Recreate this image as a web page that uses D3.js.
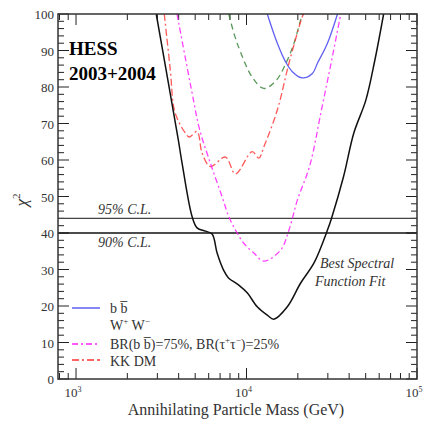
<!DOCTYPE html>
<html>
<head>
<meta charset="utf-8">
<script src="https://cdn.jsdelivr.net/npm/d3@7"></script>
<style>
  body { margin: 0; background: #fff; }
  text { font-family: 'Liberation Serif', 'DejaVu Serif', serif; }
</style>
</head>
<body>
<div id="chart"></div>
<script>
// data: mass in GeV, chi2 value
var bestFitMass = [2955, 3981, 4186, 4794, 5129, 5740, 6284, 6724, 7322, 7838, 8973, 10095, 11558, 13237, 14475, 17354, 20780, 24880, 29840, 31500, 37060, 42600, 50120, 56620, 63710]
var bestFitChi2 = [100, 65.5, 59.2, 44.5, 41.4, 40.5, 39.7, 34.5, 29.9, 27.7, 25.8, 23.6, 19.8, 17.5, 16.4, 19.8, 26.3, 31.8, 40.8, 44.0, 55.4, 67.4, 76.4, 87.4, 100]

var bbMass = [13240, 15160, 16960, 18570, 21270, 24350, 26060, 29840, 34160]
var bbChi2 = [100, 92.0, 86.9, 84.2, 82.5, 83.7, 86.5, 92.0, 100]

var wwMass = [7870, 8500, 9220, 10800, 12640, 14810, 16960, 18980, 20780, 21270]
var wwChi2 = [100, 94.2, 89.6, 82.7, 79.6, 81.6, 86.3, 92.0, 98.4, 100]

var brMass = [3912, 4794, 5291, 6141, 7196, 7870, 8616, 9640, 11040, 12640, 15850, 17740, 19870, 23480, 27510, 31410, 35720]
var brChi2 = [100, 78.4, 68.6, 59.1, 49.9, 44.5, 40.8, 37.2, 34.5, 32.3, 35.3, 40.8, 49.0, 58.4, 73.7, 86.8, 100]

var kkMass = [3294, 3572, 3772, 4090, 4377, 4620, 5129, 5490, 6141, 7524, 8616, 10800, 11810, 12640, 15160, 17740, 21270, 21650]
var kkChi2 = [100, 84.7, 73.7, 69.6, 67.4, 66.3, 67.8, 61.9, 58.2, 60.8, 56.2, 62.3, 60.5, 63.6, 73.7, 86.5, 99.3, 100]

var clLevels = [44, 40]
var clLabels = ['95% C.L.', '90% C.L.']
var yTicks = [0, 10, 20, 30, 40, 50, 60, 70, 80, 90, 100]
var xMajor = [1000, 10000, 100000]
var xExponents = ['3', '4', '5']

var width = 425
var height = 422
var margin = { top: 14, left: 58, right: 8, bottom: 43 }

var svg = d3.select('#chart')
  .append('svg')
  .attr('width', width)
  .attr('height', height)

var xPositionScale = d3.scaleLog()
  .domain([784, 100000])
  .range([margin.left, width - margin.right])

var yPositionScale = d3.scaleLinear()
  .domain([0, 100])
  .range([height - margin.bottom, margin.top])

var x0 = margin.left
var x1 = width - margin.right
var y0 = height - margin.bottom
var y1 = margin.top

svg.append('clipPath')
  .attr('id', 'plot-clip')
  .append('rect')
  .attr('x', x0)
  .attr('y', y1)
  .attr('width', x1 - x0)
  .attr('height', y0 - y1)

// ticks - y axis, both sides, inward
var yMinor = d3.range(0, 101, 2)
yMinor.forEach(function(v) {
  var major = v % 10 === 0
  var len = major ? 11 : 6
  svg.append('line')
    .attr('x1', x0).attr('x2', x0 + len)
    .attr('y1', yPositionScale(v)).attr('y2', yPositionScale(v))
    .attr('stroke', '#222').attr('stroke-width', 1)
  svg.append('line')
    .attr('x1', x1).attr('x2', x1 - len)
    .attr('y1', yPositionScale(v)).attr('y2', yPositionScale(v))
    .attr('stroke', '#222').attr('stroke-width', 1)
})

// ticks - x axis, top and bottom
var xTicks = []
;[100, 1000, 10000].forEach(function(dec) {
  for (var k = 1; k < 10; k++) {
    var m = dec * k
    if (m >= 784 && m <= 100000) xTicks.push(m)
  }
})
xTicks.push(100000)
xTicks.forEach(function(m) {
  var major = xMajor.indexOf(m) !== -1
  var len = major ? 11 : 6
  svg.append('line')
    .attr('x1', xPositionScale(m)).attr('x2', xPositionScale(m))
    .attr('y1', y0).attr('y2', y0 - len)
    .attr('stroke', '#222').attr('stroke-width', 1)
  svg.append('line')
    .attr('x1', xPositionScale(m)).attr('x2', xPositionScale(m))
    .attr('y1', y1).attr('y2', y1 + len)
    .attr('stroke', '#222').attr('stroke-width', 1)
})

// y tick labels
svg.selectAll('.ylab')
  .data(yTicks)
  .enter()
  .append('text')
  .attr('class', 'ylab')
  .attr('x', x0 - 4)
  .attr('y', function(d) { return yPositionScale(d) + 5 })
  .attr('text-anchor', 'end')
  .attr('font-size', 13)
  .attr('fill', '#333')
  .text(function(d) { return d })

// x tick labels 10^n
xMajor.forEach(function(m, i) {
  var t = svg.append('text')
    .attr('x', xPositionScale(m) - 3)
    .attr('y', y0 + 18)
    .attr('text-anchor', 'middle')
    .attr('font-size', 13)
    .attr('fill', '#333')
  t.append('tspan').text('10')
  t.append('tspan').attr('dy', -5).attr('font-size', 8).text(xExponents[i])
})

// confidence level lines
clLevels.forEach(function(v, i) {
  svg.append('line')
    .attr('x1', x0).attr('x2', x1)
    .attr('y1', yPositionScale(v)).attr('y2', yPositionScale(v))
    .attr('stroke', i === 0 ? '#444' : '#111')
    .attr('stroke-width', 1.3)
  svg.append('text')
    .attr('x', 98)
    .attr('y', i === 0 ? yPositionScale(v) - 4 : yPositionScale(v) + 14)
    .attr('font-size', 14)
    .attr('font-style', 'italic')
    .attr('fill', '#333')
    .text(clLabels[i])
})

var line = d3.line()
  .x(function(d) { return xPositionScale(d[0]) })
  .y(function(d) { return yPositionScale(d[1]) })
  .curve(d3.curveCatmullRom)

var plot = svg.append('g').attr('clip-path', 'url(#plot-clip)')

function drawSeries(mass, chi2, color, width, dash, opacity) {
  plot.append('path')
    .datum(d3.zip(mass, chi2))
    .attr('d', line)
    .attr('fill', 'none')
    .attr('stroke', color)
    .attr('stroke-width', width)
    .attr('stroke-dasharray', dash)
    .attr('stroke-opacity', opacity)
}

drawSeries(wwMass, wwChi2, '#2f7f2f', 1.3, '6,4', 0.8)
drawSeries(bbMass, bbChi2, '#3838ee', 1.3, null, 0.8)
drawSeries(kkMass, kkChi2, '#ff3030', 1.3, '7,3,2,3,7,3', 0.8)
drawSeries(brMass, brChi2, '#ff22ff', 1.3, '6,3,2,3', 0.85)
drawSeries(bestFitMass, bestFitChi2, '#111', 1.5, null, 1)

// frame
svg.append('rect')
  .attr('x', x0).attr('y', y1)
  .attr('width', x1 - x0).attr('height', y0 - y1)
  .attr('fill', 'none')
  .attr('stroke', '#333')
  .attr('stroke-width', 1.5)

// title text
svg.append('text')
  .attr('x', 69).attr('y', 55)
  .attr('font-size', 19).attr('font-weight', 'bold')
  .text('HESS')
svg.append('text')
  .attr('x', 69).attr('y', 80)
  .attr('font-size', 19).attr('font-weight', 'bold')
  .text('2003+2004')

svg.append('text')
  .attr('x', 320).attr('y', 268)
  .attr('font-size', 14).attr('font-style', 'italic').attr('fill', '#333')
  .text('Best Spectral')
svg.append('text')
  .attr('x', 315).attr('y', 286)
  .attr('font-size', 14).attr('font-style', 'italic').attr('fill', '#333')
  .text('Function Fit')

// legend
var legend = svg.append('g')
legend.append('line')
  .attr('x1', 72).attr('x2', 100).attr('y1', 308).attr('y2', 308)
  .attr('stroke', '#3838ee').attr('stroke-width', 1.5).attr('stroke-opacity', 0.8)
var bb = legend.append('text').attr('x', 110).attr('y', 313).attr('font-size', 14).attr('fill', '#333')
bb.append('tspan').text('b b\u0305')

var ww = legend.append('text').attr('x', 110).attr('y', 330).attr('font-size', 14).attr('fill', '#333')
ww.append('tspan').text('W')
ww.append('tspan').attr('dy', -6).attr('font-size', 9).text('+')
ww.append('tspan').attr('dy', 6).text(' W')
ww.append('tspan').attr('dy', -6).attr('font-size', 9).text('\u2212')

legend.append('line')
  .attr('x1', 72).attr('x2', 100).attr('y1', 344).attr('y2', 344)
  .attr('stroke', '#ff22ff').attr('stroke-width', 1.3).attr('stroke-dasharray', '6,3,2,3')
var br = legend.append('text').attr('x', 110).attr('y', 349).attr('font-size', 14).attr('fill', '#333')
br.append('tspan').text('BR(b b\u0305)=75%, BR(\u03c4')
br.append('tspan').attr('dy', -6).attr('font-size', 9).text('+')
br.append('tspan').attr('dy', 6).text('\u03c4')
br.append('tspan').attr('dy', -6).attr('font-size', 9).text('\u2212')
br.append('tspan').attr('dy', 6).text(')=25%')

legend.append('line')
  .attr('x1', 72).attr('x2', 100).attr('y1', 360).attr('y2', 360)
  .attr('stroke', '#ff3030').attr('stroke-width', 1.3).attr('stroke-dasharray', '7,3,2,3,7,3')
legend.append('text').attr('x', 110).attr('y', 366).attr('font-size', 14).attr('fill', '#333')
  .text('KK DM')

// axis titles
svg.append('text')
  .attr('x', 236).attr('y', 415)
  .attr('text-anchor', 'middle')
  .attr('font-size', 16).attr('fill', '#333')
  .text('Annihilating Particle Mass (GeV)')

var ylab = svg.append('text')
  .attr('transform', 'translate(27,200) rotate(-90)')
  .attr('text-anchor', 'middle')
  .attr('font-size', 17).attr('fill', '#333')
ylab.append('tspan').attr('font-style', 'italic').text('\u03c7')
ylab.append('tspan').attr('dy', -7).attr('font-size', 11).text('2')
</script>
</body>
</html>
